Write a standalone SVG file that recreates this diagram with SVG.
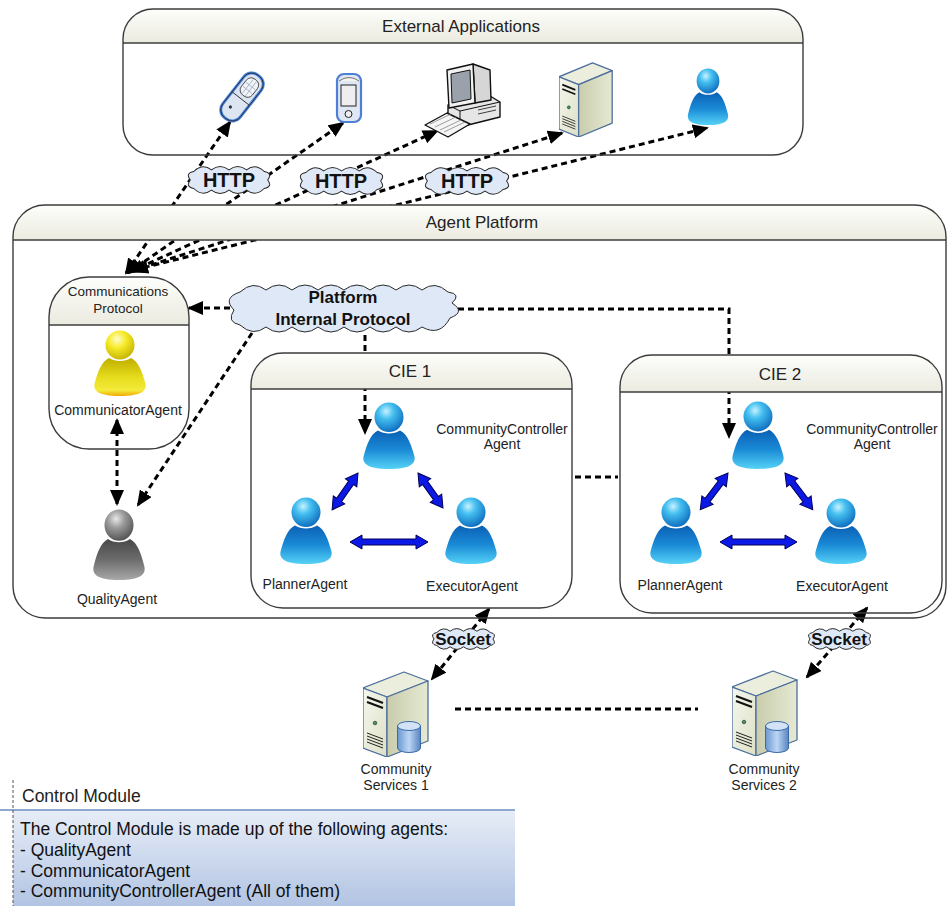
<svg xmlns="http://www.w3.org/2000/svg" xmlns:xlink="http://www.w3.org/1999/xlink" width="948" height="906" viewBox="0 0 948 906">
  <style>
    .t { font-family: "Liberation Sans", Arial, sans-serif; fill: #222; text-anchor: middle; }
    .h17 { font-size: 17px; }
    .a14 { font-size: 14px; }
    .b { font-weight: bold; fill: #111; }
    .note { font-family: "Liberation Sans", Arial, sans-serif; fill: #111; font-size: 17.5px; }
    .dash { fill: none; stroke: #000; stroke-width: 3; stroke-dasharray: 6 4; }
    .box { fill: none; stroke: #3c3c3c; stroke-width: 1.4; }
    .hdr { fill: url(#hdrGrad); }
    .sep { stroke: #3c3c3c; stroke-width: 1.4; }
    .barrow { fill: #0c18e6; stroke: #00005a; stroke-width: 1; }
    .cl { fill: #dfe8f6; stroke: #2a2a2a; stroke-width: 1; vector-effect: non-scaling-stroke; }
    .srv { stroke: #4d6f9c; stroke-width: 1.3; vector-effect: non-scaling-stroke; stroke-linejoin: round; }
  </style>
  <defs>
    <linearGradient id="hdrGrad" x1="0" y1="0" x2="0" y2="1">
      <stop offset="0" stop-color="#fdfdfb"/>
      <stop offset="1" stop-color="#ebebe0"/>
    </linearGradient>
    <linearGradient id="noteGrad" x1="0" y1="0" x2="0" y2="1">
      <stop offset="0" stop-color="#e7edf7"/>
      <stop offset="1" stop-color="#b2c4e3"/>
    </linearGradient>
    <!-- person gradients -->
    <radialGradient id="headBlue" cx="0.4" cy="0.3" r="0.75">
      <stop offset="0" stop-color="#c8f2ff"/>
      <stop offset="0.35" stop-color="#45c0f0"/>
      <stop offset="1" stop-color="#0a68bc"/>
    </radialGradient>
    <linearGradient id="bodyBlue" x1="0" y1="0" x2="0" y2="1">
      <stop offset="0" stop-color="#0b60b4"/>
      <stop offset="0.5" stop-color="#1a8ad6"/>
      <stop offset="1" stop-color="#55d2f6"/>
    </linearGradient>
    <radialGradient id="headYellow" cx="0.4" cy="0.3" r="0.75">
      <stop offset="0" stop-color="#fffbd0"/>
      <stop offset="0.4" stop-color="#f6ec2a"/>
      <stop offset="1" stop-color="#c4b000"/>
    </radialGradient>
    <linearGradient id="bodyYellow" x1="0" y1="0" x2="0" y2="1">
      <stop offset="0" stop-color="#bfae00"/>
      <stop offset="0.5" stop-color="#e6dc1c"/>
      <stop offset="0.85" stop-color="#f4ea3a"/>
      <stop offset="1" stop-color="#f0aa00"/>
    </linearGradient>
    <radialGradient id="headGray" cx="0.4" cy="0.3" r="0.75">
      <stop offset="0" stop-color="#e8e8e8"/>
      <stop offset="0.4" stop-color="#999"/>
      <stop offset="1" stop-color="#4e4e4e"/>
    </radialGradient>
    <linearGradient id="bodyGray" x1="0" y1="0" x2="0" y2="1">
      <stop offset="0" stop-color="#484848"/>
      <stop offset="0.5" stop-color="#6c6c6c"/>
      <stop offset="1" stop-color="#a8a8a8"/>
    </linearGradient>
    <!-- server gradients -->
    <linearGradient id="srvL" x1="0" y1="0" x2="1" y2="1">
      <stop offset="0" stop-color="#f6f7ee"/>
      <stop offset="1" stop-color="#dde0c6"/>
    </linearGradient>
    <linearGradient id="srvR" x1="0" y1="0" x2="1" y2="0">
      <stop offset="0" stop-color="#c9cdac"/>
      <stop offset="1" stop-color="#e6e9d3"/>
    </linearGradient>
    <linearGradient id="dbG" x1="0" y1="0" x2="1" y2="0">
      <stop offset="0" stop-color="#6a98d2"/>
      <stop offset="0.5" stop-color="#bcd6f3"/>
      <stop offset="1" stop-color="#5884c2"/>
    </linearGradient>

    <marker id="ah" viewBox="0 0 16 14" refX="14" refY="7" markerWidth="16" markerHeight="14" markerUnits="userSpaceOnUse" orient="auto-start-reverse">
      <path d="M0,0 L16,7 L0,14 Z" fill="#000"/>
    </marker>

    <symbol id="pBlue" viewBox="0 0 56 66" preserveAspectRatio="none">
      <path d="M17,28 C9,32 6,42 3,52 C0,61 7,66 28,66 C49,66 56,61 53,52 C50,42 47,32 39,28 C33,32 23,32 17,28 Z" fill="url(#bodyBlue)"/>
      <circle cx="28" cy="15" r="14.5" fill="url(#headBlue)"/>
    </symbol>
    <symbol id="pYellow" viewBox="0 0 56 66" preserveAspectRatio="none">
      <path d="M17,28 C9,32 6,42 3,52 C0,61 7,66 28,66 C49,66 56,61 53,52 C50,42 47,32 39,28 C33,32 23,32 17,28 Z" fill="url(#bodyYellow)"/>
      <circle cx="28" cy="15" r="14.5" fill="url(#headYellow)"/>
    </symbol>
    <symbol id="pGray" viewBox="0 0 56 66" preserveAspectRatio="none">
      <path d="M17,28 C9,32 6,42 3,52 C0,61 7,66 28,66 C49,66 56,61 53,52 C50,42 47,32 39,28 C33,32 23,32 17,28 Z" fill="url(#bodyGray)"/>
      <circle cx="28" cy="15" r="14.5" fill="url(#headGray)"/>
    </symbol>

    <symbol id="server" viewBox="0 0 66 86" preserveAspectRatio="none">
      <path d="M0,17 L41,1 L65,10 L24,26 Z" fill="#eceedd" class="srv"/>
      <path d="M0,17 L24,26 L24,86 L0,77 Z" fill="url(#srvL)" class="srv"/>
      <path d="M24,26 L65,10 L65,70 L24,86 Z" fill="url(#srvR)" class="srv"/>
      <path d="M4,26 L20,32 M4,31 L20,37" stroke="#111" stroke-width="2" fill="none"/>
      <circle cx="12" cy="52" r="1.8" fill="#3a9a5a" stroke="#222" stroke-width="0.6"/>
      <path d="M4,62 L20,68 M4,65 L20,71 M4,68 L20,74 M4,71 L20,77" stroke="#222" stroke-width="1" fill="none"/>
    </symbol>

    <symbol id="db" viewBox="0 0 24 32" preserveAspectRatio="none">
      <path d="M0.5,5 L0.5,27 A11.5,4.5 0 0 0 23.5,27 L23.5,5 Z" fill="url(#dbG)" stroke="#3b6aa6" stroke-width="1"/>
      <ellipse cx="12" cy="5" rx="11.5" ry="4.5" fill="#d2e3f7" stroke="#3b6aa6" stroke-width="1"/>
    </symbol>

    <symbol id="cloud" viewBox="0 0 100 40" preserveAspectRatio="none">
      <path class="cl" d="M10,10 Q20,0 30,8 Q40,0 50,8 Q60,0 70,8 Q80,0 90,10 Q100,12 94,20 Q100,28 90,30 Q80,40 70,32 Q60,40 50,32 Q40,40 30,32 Q20,40 10,30 Q0,28 6,20 Q0,12 10,10 Z"/>
    </symbol>
  </defs>

  <rect width="948" height="906" fill="#fff"/>

  <!-- connectors -->
  <g id="connectors">
    <!-- HTTP links between the devices and the communications protocol -->
    <path class="dash" d="M126,273 L230,122" marker-start="url(#ah)" marker-end="url(#ah)"/>
    <path class="dash" d="M128,273 L343,123" marker-start="url(#ah)" marker-end="url(#ah)"/>
    <path class="dash" d="M130,272 L437,131" marker-start="url(#ah)" marker-end="url(#ah)"/>
    <path class="dash" d="M132,271 L562,133" marker-start="url(#ah)" marker-end="url(#ah)"/>
    <path class="dash" d="M134,270 L707,128" marker-start="url(#ah)" marker-end="url(#ah)"/>
    <!-- platform internal protocol -->
    <path class="dash" d="M230,308 L189,308" marker-end="url(#ah)"/>
    <path class="dash" d="M252,333 L138,505" marker-end="url(#ah)"/>
    <path class="dash" d="M117,420 L117,504" marker-start="url(#ah)" marker-end="url(#ah)"/>
    <path class="dash" d="M365,335 L365,433" marker-end="url(#ah)"/>
    <path class="dash" d="M458,309 L729,309 L729,437" marker-end="url(#ah)"/>
    <path class="dash" d="M575,477 L618,477"/>
    <!-- socket links -->
    <path class="dash" d="M489,609 L432,679" marker-start="url(#ah)" marker-end="url(#ah)"/>
    <path class="dash" d="M867,608 L807,677" marker-start="url(#ah)" marker-end="url(#ah)"/>
    <path class="dash" d="M455,709 L698,709"/>
    <!-- agent interactions inside each CIE -->
    <polygon class="barrow" transform="translate(358,473) rotate(125.1)" points="0,0 12,-7 12,-3 33,-3 33,-7 45,0 33,7 33,3 12,3 12,7"/>
    <polygon class="barrow" transform="translate(418,473) rotate(54.5)" points="0,0 12,-7 12,-3 31,-3 31,-7 43,0 31,7 31,3 12,3 12,7"/>
    <polygon class="barrow" transform="translate(350,542)" points="0,0 12,-7 12,-3 66,-3 66,-7 78,0 66,7 66,3 12,3 12,7"/>
    <polygon class="barrow" transform="translate(728,473) rotate(127.1)" points="0,0 12,-7 12,-3 34,-3 34,-7 46,0 34,7 34,3 12,3 12,7"/>
    <polygon class="barrow" transform="translate(785,473) rotate(52.9)" points="0,0 12,-7 12,-3 34,-3 34,-7 46,0 34,7 34,3 12,3 12,7"/>
    <polygon class="barrow" transform="translate(720,542)" points="0,0 12,-7 12,-3 65,-3 65,-7 77,0 65,7 65,3 12,3 12,7"/>
  </g>

  <!-- containers -->
  <g id="external-applications">
    <path class="hdr" d="M123,43 L123,39 A30,30 0 0 1 153,9 L773,9 A30,30 0 0 1 803,39 L803,43 Z"/>
    <rect class="box" x="123" y="9" width="680" height="146" rx="30"/>
    <line class="sep" x1="123" y1="43" x2="803" y2="43"/>
    <text class="t h17" x="461" y="32">External Applications</text>
  </g>

  <g id="agent-platform">
    <path class="hdr" d="M13,240 L13,237 A32,32 0 0 1 45,205 L914,205 A32,32 0 0 1 946,237 L946,240 Z"/>
    <rect class="box" x="13" y="205" width="933" height="413" rx="32"/>
    <line class="sep" x1="13" y1="240" x2="946" y2="240"/>
    <text class="t h17" x="482" y="228">Agent Platform</text>
  </g>

  <g id="communications-protocol">
    <path class="hdr" d="M49,325 L49,317 A40,40 0 0 1 89,277 L149,277 A40,40 0 0 1 189,317 L189,325 Z"/>
    <rect class="box" x="49" y="277" width="140" height="172" rx="40"/>
    <line class="sep" x1="49" y1="325" x2="189" y2="325"/>
    <text class="t" style="font-size:13.5px" x="118" y="296">Communications</text>
    <text class="t" style="font-size:13.5px" x="118" y="313">Protocol</text>
  </g>

  <g id="cie-1">
    <path class="hdr" d="M251,389 L251,385 A32,32 0 0 1 283,353 L540,353 A32,32 0 0 1 572,385 L572,389 Z"/>
    <rect class="box" x="251" y="353" width="321" height="255" rx="32"/>
    <line class="sep" x1="251" y1="389" x2="572" y2="389"/>
    <text class="t h17" x="410" y="377">CIE 1</text>
  </g>

  <g id="cie-2">
    <path class="hdr" d="M620,392 L620,387 A32,32 0 0 1 652,355 L910,355 A32,32 0 0 1 942,387 L942,392 Z"/>
    <rect class="box" x="620" y="355" width="322" height="258" rx="32"/>
    <line class="sep" x1="620" y1="392" x2="942" y2="392"/>
    <text class="t h17" x="780" y="380">CIE 2</text>
  </g>

  <!-- external devices -->
  <g id="mobile-phone" transform="translate(242,97) rotate(38)">
    <rect x="-11" y="-27" width="22" height="54" rx="10" fill="#dde5f3" stroke="#4a84dc" stroke-width="3"/>
    <rect x="-11" y="-27" width="22" height="54" rx="10" fill="none" stroke="#222" stroke-width="0.8"/>
    <rect x="-7" y="-22" width="14" height="20" rx="6" fill="#f0f3f8" stroke="#333" stroke-width="0.8"/>
    <path d="M-6,-14 H6 M-6,-9 H6 M-2,-21 V-3 M2,-21 V-3" stroke="#9aa6b8" stroke-width="0.7"/>
    <path d="M-11,2 H11" stroke="#333" stroke-width="0.9"/>
    <circle cx="-3" cy="15" r="1.6" fill="#333"/>
  </g>

  <g id="pda">
    <rect x="337" y="74" width="24" height="48" rx="7" fill="#dfe6f4" stroke="#4d7fd4" stroke-width="2.2"/>
    <path d="M339,81 Q349,74 359,81" fill="#f4f4ec" stroke="#555" stroke-width="0.8"/>
    <rect x="341" y="85" width="15" height="21" fill="#eeeeee" stroke="#222" stroke-width="1"/>
    <circle cx="348.5" cy="114" r="3.5" fill="#eee" stroke="#222" stroke-width="1"/>
  </g>

  <g id="desktop-pc" stroke="#111" stroke-linejoin="round">
    <path d="M448,105 L490,96 L500,102 L500,117 L460,127 L448,120 Z" fill="#e6e6e6" stroke-width="1.4"/>
    <path d="M448,105 L460,111 L500,102 M460,111 L460,127" fill="none" stroke-width="1"/>
    <path d="M478,110 L496,106 M478,114 L496,110" fill="none" stroke-width="0.8"/>
    <path d="M473,64 L490,70 L491,100 L475,103 Z" fill="#d6d6d6" stroke-width="1.4"/>
    <path d="M447,70 L473,64 L475,103 L449,108 Z" fill="#f2f2f2" stroke-width="1.4"/>
    <path d="M451,74 L470,70 L471,99 L452,103 Z" fill="#9aa1aa" stroke-width="1"/>
    <path d="M425,125 L447,113 L470,124 L448,137 Z" fill="#f5f5f5" stroke-width="1.4"/>
    <path d="M430,124 L451,114 M435,127 L456,117 M440,130 L461,120 M444,132 L465,122" fill="none" stroke="#777" stroke-width="0.7"/>
  </g>

  <g id="app-server">
    <use href="#server" x="559" y="62" width="54" height="75"/>
  </g>

  <g id="app-user">
    <use href="#pBlue" x="686" y="68" width="44" height="57"/>
  </g>

  <!-- protocol clouds -->
  <g id="http-1">
    <use href="#cloud" x="185" y="163" width="88" height="34"/>
    <text class="t b" style="font-size:20px" x="229" y="187">HTTP</text>
  </g>
  <g id="http-2">
    <use href="#cloud" x="297" y="164" width="89" height="34"/>
    <text class="t b" style="font-size:20px" x="341" y="188">HTTP</text>
  </g>
  <g id="http-3">
    <use href="#cloud" x="422" y="164" width="90" height="34"/>
    <text class="t b" style="font-size:20px" x="467" y="188">HTTP</text>
  </g>

  <g id="platform-internal-protocol">
    <path class="cl" d="M240,292 Q253,280 266,290 Q279,280 292,290 Q305,280 318,290 Q331,280 344,290 Q357,280 370,290 Q383,280 396,290 Q409,280 422,290 Q435,280 448,292 Q462,294 452,303 Q466,312 450,318 Q440,337 422,327 Q409,337 396,327 Q383,337 370,327 Q357,337 344,327 Q331,337 318,327 Q305,337 292,327 Q279,337 266,327 Q253,337 240,325 Q226,322 234,310 Q222,298 240,292 Z"/>
    <text class="t b" style="font-size:17px" x="343" y="303">Platform</text>
    <text class="t b" style="font-size:17px" x="343" y="325">Internal Protocol</text>
  </g>

  <g id="socket-1">
    <use href="#cloud" x="430" y="626" width="67" height="26"/>
    <text class="t b" style="font-size:17px" x="463" y="645">Socket</text>
  </g>
  <g id="socket-2">
    <use href="#cloud" x="806" y="626" width="67" height="26"/>
    <text class="t b" style="font-size:17px" x="839" y="645">Socket</text>
  </g>

  <!-- agents -->
  <g id="communicator-agent">
    <use href="#pYellow" x="92" y="330" width="56" height="66"/>
    <text class="t a14" x="118" y="415">CommunicatorAgent</text>
  </g>
  <g id="quality-agent">
    <use href="#pGray" x="91" y="509" width="56" height="71"/>
    <text class="t a14" x="117" y="604">QualityAgent</text>
  </g>

  <g id="cie1-community-controller">
    <use href="#pBlue" x="361" y="402" width="56" height="67"/>
    <text class="t a14" x="502" y="434">CommunityController</text>
    <text class="t a14" x="502" y="449">Agent</text>
  </g>
  <g id="cie1-planner">
    <use href="#pBlue" x="278" y="497" width="56" height="67"/>
    <text class="t a14" x="305" y="589">PlannerAgent</text>
  </g>
  <g id="cie1-executor">
    <use href="#pBlue" x="443" y="497" width="56" height="67"/>
    <text class="t a14" x="472" y="591">ExecutorAgent</text>
  </g>

  <g id="cie2-community-controller">
    <use href="#pBlue" x="730" y="401" width="56" height="68"/>
    <text class="t a14" x="872" y="434">CommunityController</text>
    <text class="t a14" x="872" y="449">Agent</text>
  </g>
  <g id="cie2-planner">
    <use href="#pBlue" x="648" y="497" width="56" height="67"/>
    <text class="t a14" x="680" y="590">PlannerAgent</text>
  </g>
  <g id="cie2-executor">
    <use href="#pBlue" x="813" y="498" width="56" height="66"/>
    <text class="t a14" x="842" y="591">ExecutorAgent</text>
  </g>

  <!-- community services -->
  <g id="community-services-1">
    <use href="#server" x="363" y="671" width="66" height="86"/>
    <use href="#db" x="397" y="721" width="24" height="32"/>
    <text class="t a14" x="396" y="774">Community</text>
    <text class="t a14" x="396" y="790">Services 1</text>
  </g>
  <g id="community-services-2">
    <use href="#server" x="732" y="670" width="66" height="86"/>
    <use href="#db" x="765" y="721" width="24" height="32"/>
    <text class="t a14" x="764" y="774">Community</text>
    <text class="t a14" x="764" y="790">Services 2</text>
  </g>

  <!-- control module note -->
  <g id="control-module">
    <rect x="13" y="811" width="502" height="95" fill="url(#noteGrad)"/>
    <line x1="0" y1="810" x2="515" y2="810" stroke="#8ea8cf" stroke-width="2"/>
    <line x1="13" y1="780" x2="13" y2="906" stroke="#555" stroke-width="1" stroke-dasharray="3 2"/>
    <text class="note" x="22" y="802" style="fill:#222">Control Module</text>
    <text class="note" x="20" y="835">The Control Module is made up of the following agents:</text>
    <text class="note" x="20" y="856">- QualityAgent</text>
    <text class="note" x="20" y="877">- CommunicatorAgent</text>
    <text class="note" x="20" y="897">- CommunityControllerAgent (All of them)</text>
  </g>
</svg>
